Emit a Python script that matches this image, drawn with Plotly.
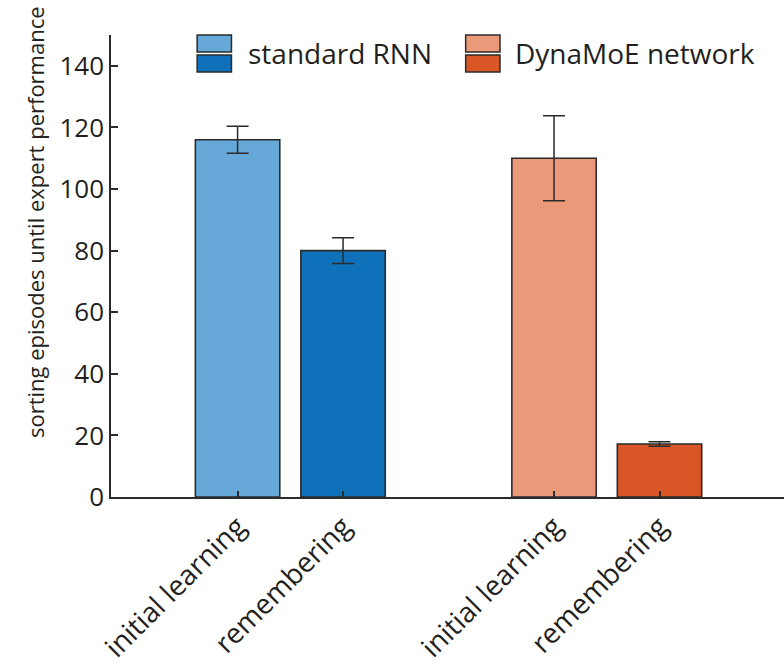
import plotly.graph_objects as go

# Data
positions = [1, 2, 4, 5]
tick_labels = ["initial learning", "remembering", "initial learning", "remembering"]
rnn_values = [116, 80]
rnn_errors = [4.4, 4.2]
moe_values = [110, 17.2]
moe_errors = [13.8, 0.7]
rnn_colors = ["#66a9d8", "#0f71b9"]
moe_colors = ["#ea9a78", "#d95627"]
series_names = ["standard RNN", "DynaMoE network"]
y_title = "sorting episodes until expert performance"

FONT = "Open Sans"
INK = "#231f20"
EDGE = "#2b2b2b"

fig = go.Figure()

for xs, vals, errs, cols, name in [
    (positions[:2], rnn_values, rnn_errors, rnn_colors, series_names[0]),
    (positions[2:], moe_values, moe_errors, moe_colors, series_names[1]),
]:
    fig.add_trace(go.Bar(
        x=xs, y=vals, name=name, width=0.8,
        marker=dict(color=cols, line=dict(color=EDGE, width=1.6)),
        error_y=dict(type="data", array=errs, visible=True,
                     color=EDGE, thickness=1.5, width=11),
        showlegend=False,
    ))

# Legend drawn as paired swatches (light = initial learning, dark = remembering)
legend_items = [
    (0.128, 0.022, rnn_colors, series_names[0]),
    (0.527, 0.019, moe_colors, series_names[1]),
]
for x0, gap, cols, name in legend_items:
    w = 0.051
    fig.add_shape(type="rect", xref="paper", yref="paper",
                  x0=x0, x1=x0 + w, y0=1.0 - 17 / 462, y1=1.0,
                  fillcolor=cols[0], line=dict(color=EDGE, width=1.5))
    fig.add_shape(type="rect", xref="paper", yref="paper",
                  x0=x0, x1=x0 + w, y0=1.0 - 37 / 462, y1=1.0 - 20 / 462,
                  fillcolor=cols[1], line=dict(color=EDGE, width=1.5))
    fig.add_annotation(xref="paper", yref="paper", x=x0 + w + gap,
                       y=1.0 - 18 / 462, text=name, showarrow=False,
                       xanchor="left", yanchor="middle",
                       font=dict(family=FONT, size=28, color=INK))

# Vertical axis title, placed as rotated text
fig.add_annotation(xref="paper", yref="paper", x=-0.113, y=0.595,
                   text=y_title, textangle=-90, showarrow=False,
                   xanchor="center", yanchor="middle",
                   font=dict(family=FONT, size=22, color=INK))

fig.update_layout(
    width=784, height=666,
    margin=dict(l=111, r=0, t=35, b=169),
    paper_bgcolor="white", plot_bgcolor="white",
    font=dict(family=FONT, color=INK),
    bargap=0.2,
    xaxis=dict(
        range=[-0.2, 6.18],
        tickvals=positions, ticktext=tick_labels, tickangle=-45,
        ticks="inside", ticklen=6, tickwidth=1.5, tickcolor=EDGE,
        tickfont=dict(family=FONT, size=28, color=INK),
        showline=True, linecolor=EDGE, linewidth=2,
        showgrid=False, zeroline=False,
    ),
    yaxis=dict(
        range=[0, 150],
        tickvals=[0, 20, 40, 60, 80, 100, 120, 140],
        ticks="inside", ticklen=7, tickwidth=1.5, tickcolor=EDGE,
        tickfont=dict(family=FONT, size=26, color=INK),
        showline=True, linecolor=EDGE, linewidth=1.5,
        showgrid=False, zeroline=False,
    ),
)

fig.write_html("out.html")
